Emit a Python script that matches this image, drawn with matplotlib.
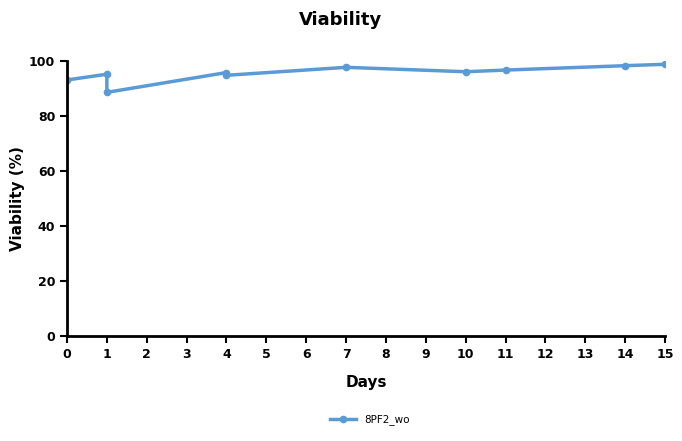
import matplotlib
matplotlib.use("Agg")
import matplotlib.pyplot as plt

# data
days = [0, 1, 1, 4, 4, 7, 10, 11, 14, 15]
viability = [93.1, 95.2, 88.6, 95.8, 94.8, 97.7, 96.1, 96.7, 98.3, 98.8]
series_name = "8PF2_wo"

plt.rcParams['font.family'] = ['DejaVu Sans']

fig = plt.figure(figsize=(6.82, 4.41), dpi=100)
ax = fig.add_axes([67 / 682, 1 - 336 / 441, (665 - 67) / 682, (336 - 61) / 441])

ax.plot(days, viability, 'o-', color='#5B9BD5', linewidth=2.5, markersize=4.5,
        label=series_name)

ax.set_xlim(0, 15)
ax.set_ylim(0, 100)
ax.set_xticks(range(0, 16))
ax.set_yticks(range(0, 101, 20))
ax.spines['top'].set_visible(False)
ax.spines['right'].set_visible(False)
for s in ('left', 'bottom'):
    ax.spines[s].set_linewidth(2)
ax.tick_params(width=1.5, length=5, labelsize=9)
for lab in ax.get_xticklabels() + ax.get_yticklabels():
    lab.set_fontweight('bold')

ax.set_xlabel('Days', fontsize=11, fontweight='bold')
ax.set_ylabel('Viability (%)', fontsize=11, fontweight='bold')
ax.xaxis.set_label_coords(0.5, (336 - 382) / 275, transform=ax.transAxes)
ax.yaxis.set_label_coords((18 - 67) / 598, 0.5, transform=ax.transAxes)
ax.xaxis.label.set_va('center')
ax.yaxis.label.set_va('center')
fig.text(0.5, 1 - 20 / 441, 'Viability', ha='center', va='center',
         fontsize=13, fontweight='bold')

ax.legend(loc='center', bbox_to_anchor=(370 / 682, 1 - 420 / 441),
          bbox_transform=fig.transFigure, frameon=False, fontsize=7.5,
          handlelength=2.5)

plt.savefig('out.png', dpi=100)
